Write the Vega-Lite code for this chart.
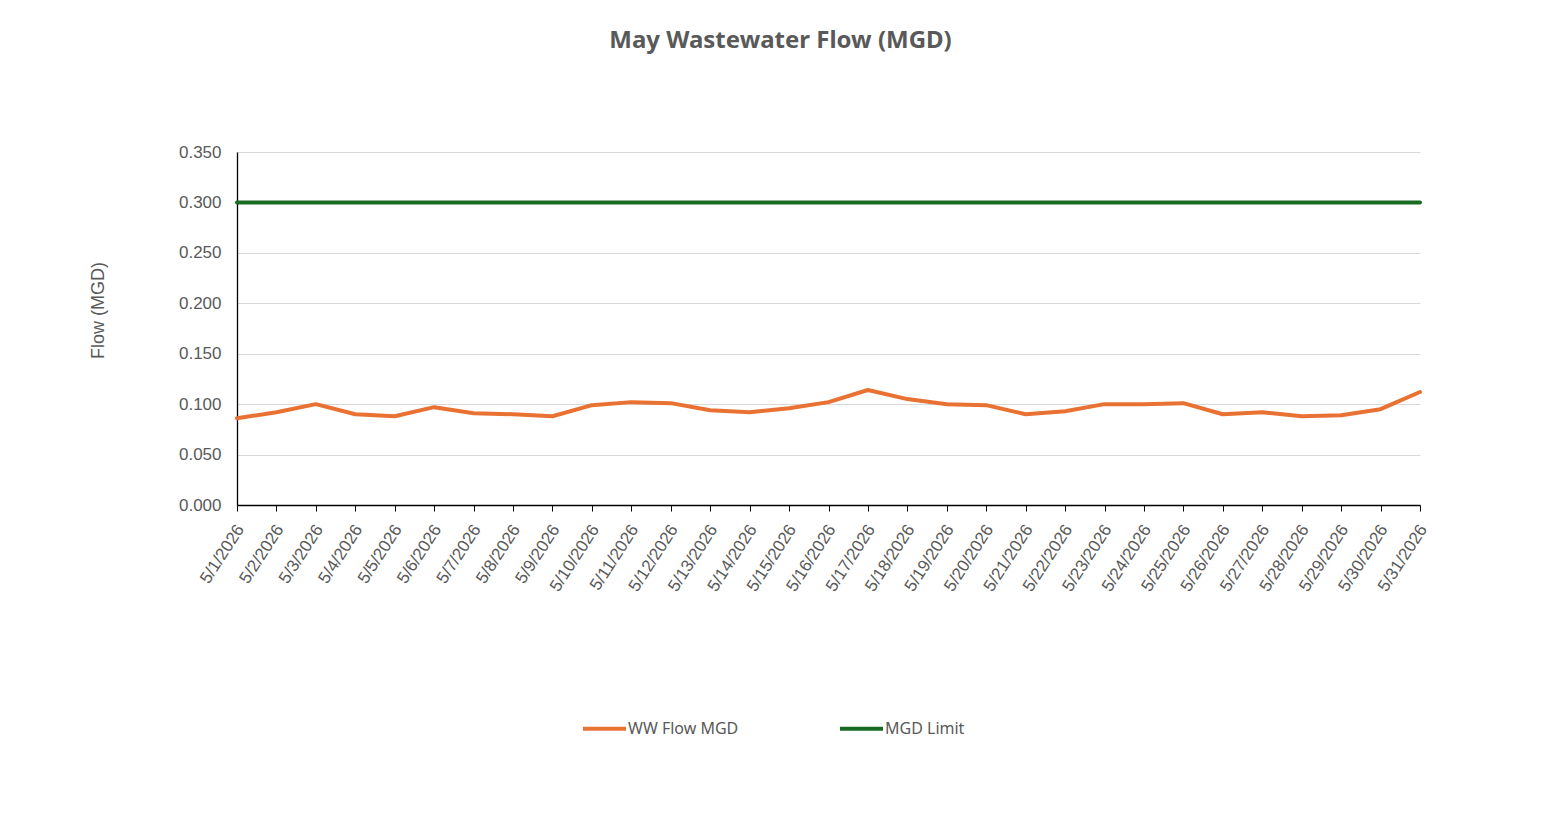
{
  "$schema": "https://vega.github.io/schema/vega-lite/v6.json",
  "width": 1183,
  "height": 353,
  "autosize": "none",
  "padding": {"left": 237, "top": 152, "right": 121, "bottom": 312},
  "background": "white",
  "title": {
    "text": "May Wastewater Flow (MGD)",
    "font": "Noto Sans",
    "fontSize": 24,
    "fontWeight": "bold",
    "color": "#595959",
    "anchor": "middle",
    "dx": -48,
    "baseline": "alphabetic",
    "offset": 71
  },
  "data": {
    "values": [
      {"date": "5/1/2026", "series": "WW Flow MGD", "flow": 0.086},
      {"date": "5/2/2026", "series": "WW Flow MGD", "flow": 0.092},
      {"date": "5/3/2026", "series": "WW Flow MGD", "flow": 0.100},
      {"date": "5/4/2026", "series": "WW Flow MGD", "flow": 0.090},
      {"date": "5/5/2026", "series": "WW Flow MGD", "flow": 0.088},
      {"date": "5/6/2026", "series": "WW Flow MGD", "flow": 0.097},
      {"date": "5/7/2026", "series": "WW Flow MGD", "flow": 0.091},
      {"date": "5/8/2026", "series": "WW Flow MGD", "flow": 0.090},
      {"date": "5/9/2026", "series": "WW Flow MGD", "flow": 0.088},
      {"date": "5/10/2026", "series": "WW Flow MGD", "flow": 0.099},
      {"date": "5/11/2026", "series": "WW Flow MGD", "flow": 0.102},
      {"date": "5/12/2026", "series": "WW Flow MGD", "flow": 0.101},
      {"date": "5/13/2026", "series": "WW Flow MGD", "flow": 0.094},
      {"date": "5/14/2026", "series": "WW Flow MGD", "flow": 0.092},
      {"date": "5/15/2026", "series": "WW Flow MGD", "flow": 0.096},
      {"date": "5/16/2026", "series": "WW Flow MGD", "flow": 0.102},
      {"date": "5/17/2026", "series": "WW Flow MGD", "flow": 0.114},
      {"date": "5/18/2026", "series": "WW Flow MGD", "flow": 0.105},
      {"date": "5/19/2026", "series": "WW Flow MGD", "flow": 0.100},
      {"date": "5/20/2026", "series": "WW Flow MGD", "flow": 0.099},
      {"date": "5/21/2026", "series": "WW Flow MGD", "flow": 0.090},
      {"date": "5/22/2026", "series": "WW Flow MGD", "flow": 0.093},
      {"date": "5/23/2026", "series": "WW Flow MGD", "flow": 0.100},
      {"date": "5/24/2026", "series": "WW Flow MGD", "flow": 0.100},
      {"date": "5/25/2026", "series": "WW Flow MGD", "flow": 0.101},
      {"date": "5/26/2026", "series": "WW Flow MGD", "flow": 0.090},
      {"date": "5/27/2026", "series": "WW Flow MGD", "flow": 0.092},
      {"date": "5/28/2026", "series": "WW Flow MGD", "flow": 0.088},
      {"date": "5/29/2026", "series": "WW Flow MGD", "flow": 0.089},
      {"date": "5/30/2026", "series": "WW Flow MGD", "flow": 0.095},
      {"date": "5/31/2026", "series": "WW Flow MGD", "flow": 0.112},
      {"date": "5/1/2026", "series": "MGD Limit", "flow": 0.3},
      {"date": "5/2/2026", "series": "MGD Limit", "flow": 0.3},
      {"date": "5/3/2026", "series": "MGD Limit", "flow": 0.3},
      {"date": "5/4/2026", "series": "MGD Limit", "flow": 0.3},
      {"date": "5/5/2026", "series": "MGD Limit", "flow": 0.3},
      {"date": "5/6/2026", "series": "MGD Limit", "flow": 0.3},
      {"date": "5/7/2026", "series": "MGD Limit", "flow": 0.3},
      {"date": "5/8/2026", "series": "MGD Limit", "flow": 0.3},
      {"date": "5/9/2026", "series": "MGD Limit", "flow": 0.3},
      {"date": "5/10/2026", "series": "MGD Limit", "flow": 0.3},
      {"date": "5/11/2026", "series": "MGD Limit", "flow": 0.3},
      {"date": "5/12/2026", "series": "MGD Limit", "flow": 0.3},
      {"date": "5/13/2026", "series": "MGD Limit", "flow": 0.3},
      {"date": "5/14/2026", "series": "MGD Limit", "flow": 0.3},
      {"date": "5/15/2026", "series": "MGD Limit", "flow": 0.3},
      {"date": "5/16/2026", "series": "MGD Limit", "flow": 0.3},
      {"date": "5/17/2026", "series": "MGD Limit", "flow": 0.3},
      {"date": "5/18/2026", "series": "MGD Limit", "flow": 0.3},
      {"date": "5/19/2026", "series": "MGD Limit", "flow": 0.3},
      {"date": "5/20/2026", "series": "MGD Limit", "flow": 0.3},
      {"date": "5/21/2026", "series": "MGD Limit", "flow": 0.3},
      {"date": "5/22/2026", "series": "MGD Limit", "flow": 0.3},
      {"date": "5/23/2026", "series": "MGD Limit", "flow": 0.3},
      {"date": "5/24/2026", "series": "MGD Limit", "flow": 0.3},
      {"date": "5/25/2026", "series": "MGD Limit", "flow": 0.3},
      {"date": "5/26/2026", "series": "MGD Limit", "flow": 0.3},
      {"date": "5/27/2026", "series": "MGD Limit", "flow": 0.3},
      {"date": "5/28/2026", "series": "MGD Limit", "flow": 0.3},
      {"date": "5/29/2026", "series": "MGD Limit", "flow": 0.3},
      {"date": "5/30/2026", "series": "MGD Limit", "flow": 0.3},
      {"date": "5/31/2026", "series": "MGD Limit", "flow": 0.3}
    ]
  },
  "mark": {"type": "line", "strokeWidth": 4, "strokeCap": "round", "strokeJoin": "round"},
  "encoding": {
    "x": {
      "field": "date",
      "type": "ordinal",
      "sort": null,
      "scale": {"type": "point", "padding": 0},
      "axis": {
        "title": null,
        "labelAngle": -57,
        "labelAlign": "right",
        "labelBaseline": "middle",
        "labelFont": "Liberation Sans",
        "labelFontSize": 17,
        "labelColor": "#595959",
        "labelPadding": 15,
        "labelOffset": 3,
        "tickSize": 6,
        "tickColor": "#000000",
        "domainColor": "#000000",
        "domainWidth": 1.3,
        "grid": false,
        "labelOverlap": false
      }
    },
    "y": {
      "field": "flow",
      "type": "quantitative",
      "scale": {"domain": [0, 0.35], "nice": false},
      "axis": {
        "title": "Flow (MGD)",
        "titleFont": "Liberation Sans",
        "titleFontSize": 18,
        "titleFontWeight": "normal",
        "titleColor": "#595959",
        "titleX": -139,
        "titleY": 158,
        "titleBaseline": "middle",
        "titleAlign": "center",
        "values": [0, 0.05, 0.1, 0.15, 0.2, 0.25, 0.3, 0.35],
        "format": ".3f",
        "labelFont": "Liberation Sans",
        "labelFontSize": 17,
        "labelColor": "#595959",
        "labelPadding": 16,
        "ticks": false,
        "domainColor": "#000000",
        "domainWidth": 1.3,
        "gridColor": "#d9d9d9",
        "gridWidth": 1
      }
    },
    "color": {
      "field": "series",
      "type": "nominal",
      "scale": {"domain": ["WW Flow MGD", "MGD Limit"], "range": ["#E97132", "#196B24"]},
      "legend": {
        "title": null,
        "orient": "none",
        "direction": "horizontal",
        "legendX": 344,
        "legendY": 553,
        "symbolType": "stroke",
        "symbolSize": 1849,
        "symbolStrokeWidth": 4,
        "labelFont": "Noto Sans",
        "labelFontSize": 16,
        "labelColor": "#595959",
        "labelOffset": 0,
        "columnPadding": 93
      }
    }
  },
  "config": {"view": {"stroke": null}}
}
